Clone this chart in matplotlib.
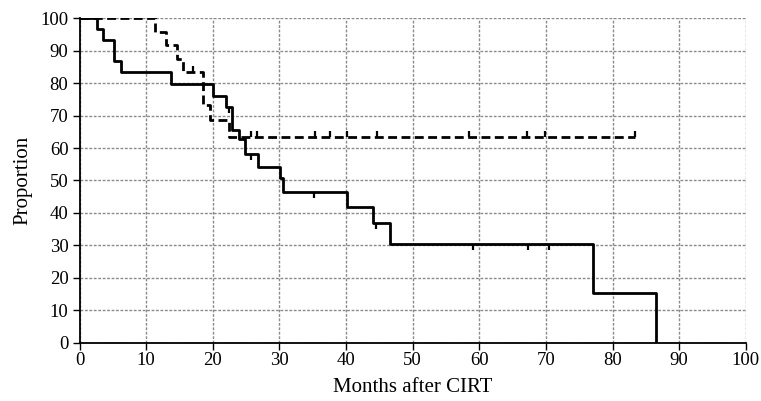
import numpy as np
import matplotlib
matplotlib.use("Agg")
import matplotlib.pyplot as plt

# Solid curve (Kaplan-Meier step data)
solid_t = [0, 2.6, 3.5, 5.1, 6.3, 13.8, 20.0, 22.0, 22.9, 24.0, 24.8, 26.8, 30.1, 30.6, 40.1, 44.0, 46.6, 77.1, 86.5]
solid_s = [100, 96.7, 93.3, 86.7, 83.3, 79.7, 76.0, 72.5, 65.6, 62.8, 58.2, 54.3, 50.7, 46.6, 41.9, 36.8, 30.5, 15.3, 0]
solid_cens = [22.5, 25.7, 35.2, 44.5, 59.1, 67.3, 70.5]

# Dashed curve
dash_t = [0, 11.3, 13.0, 14.7, 15.6, 18.6, 19.6, 22.5, 83.4]
dash_s = [100, 95.8, 91.7, 87.5, 83.3, 73.4, 68.6, 63.5, 63.5]
dash_cens = [17.1, 25.8, 26.6, 35.4, 37.6, 40.2, 44.6, 58.4, 67.1, 69.9, 83.4]

x_ticks = list(range(0, 101, 10))
y_ticks = list(range(0, 101, 10))
x_label = "Months after CIRT"
y_label = "Proportion"


def step_value(ts, ss, t):
    idx = np.searchsorted(ts, t, side="right") - 1
    return np.asarray(ss)[idx]


plt.rcParams['font.family'] = ['Liberation Serif', 'DejaVu Serif']

fig = plt.figure(figsize=(7.61, 4.01), dpi=100)
ax = fig.add_axes([0.1045, 0.1454, 0.8755, 0.8090])

ax.set_xlim(0, 100)
ax.set_ylim(0, 100)
ax.set_xticks(x_ticks)
ax.set_yticks(y_ticks)
ax.grid(True, color='#8a8a8a', linestyle=(0, (2, 1.2)), linewidth=1.0)
ax.set_axisbelow(True)

for s in ['top', 'right']:
    ax.spines[s].set_visible(False)
for s in ['left', 'bottom']:
    ax.spines[s].set_linewidth(1.3)
    ax.spines[s].set_zorder(5)

ax.step(solid_t, solid_s, where='post', color='black', lw=2.0, zorder=4)
ax.step(dash_t, dash_s, where='post', color='black', lw=2.0,
        linestyle=(0, (3.2, 1.6)), zorder=4)

sc_y = [step_value(solid_t, solid_s, t) for t in solid_cens]
ax.plot(solid_cens, sc_y, linestyle='none', marker=3, markersize=4,
        markeredgewidth=1.6, color='black', zorder=4)
dc_y = [step_value(dash_t, dash_s, t) for t in dash_cens]
ax.plot(dash_cens, dc_y, linestyle='none', marker=2, markersize=4,
        markeredgewidth=1.6, color='black', zorder=4)

ax.tick_params(axis='both', direction='out', length=5, width=1.0,
               labelsize=13.5, colors='black')
ax.tick_params(axis='x', pad=2)
ax.tick_params(axis='y', pad=3)
ax.set_xlabel(x_label, fontsize=15, labelpad=6)
ax.set_ylabel(y_label, fontsize=15, labelpad=6)

fig.savefig("out.png", dpi=100)
